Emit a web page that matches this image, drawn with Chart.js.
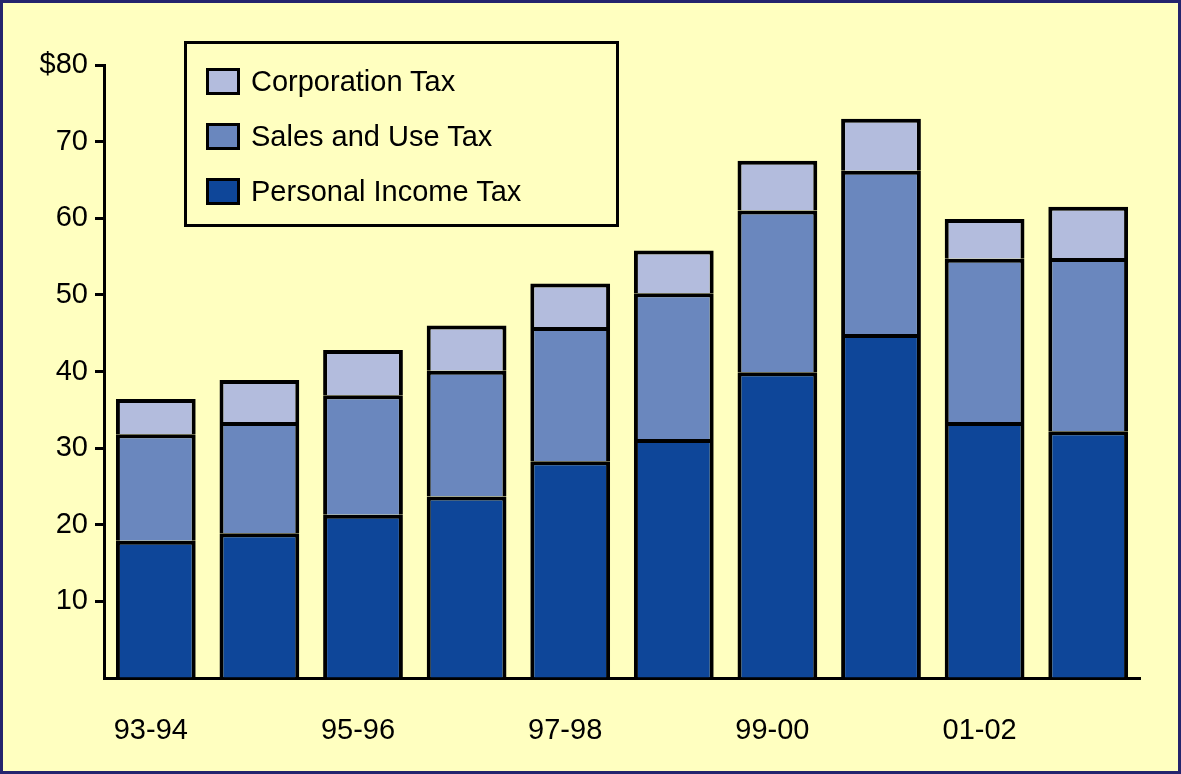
<!DOCTYPE html>
<html>
<head>
<meta charset="utf-8">
<script src="https://cdn.jsdelivr.net/npm/chart.js@4/dist/chart.umd.min.js"></script>
<style>
  html, body { margin: 0; padding: 0; background: #ffffc0; }
  #frame {
    position: relative;
    width: 1181px; height: 774px;
    box-sizing: border-box;
    border: 3px solid #24246e;
    background: #ffffc0;
    font-family: "Liberation Sans", Arial, sans-serif;
  }
  #chartWrap { position: absolute; left: 0; top: 0; width: 1175px; height: 768px; }
  #legend {
    position: absolute; left: 181px; top: 38px;
    width: 435px; height: 186px; box-sizing: border-box;
    border: 3px solid #000;
    padding-top: 10px;
  }
  .item { display: flex; align-items: center; height: 55px; padding-left: 19px; font-size: 29px; color: #000; }
  .swatch { width: 34px; height: 27px; box-sizing: border-box; border: 3px solid #000; margin-right: 11px; flex: none; }
</style>
</head>
<body>
<div id="frame">
  <div id="chartWrap"><canvas id="taxChart"></canvas></div>
  <div id="legend"></div>
</div>
<script>
// fiscal years, billions of dollars
const years = ['93-94', '94-95', '95-96', '96-97', '97-98', '98-99', '99-00', '00-01', '01-02', '02-03'];
const personalIncome = [17.9, 18.9, 21.3, 23.7, 28.3, 31.2, 39.9, 44.9, 33.4, 32.2];
const salesAndUse = [13.9, 14.5, 15.6, 16.4, 17.5, 19.0, 21.1, 21.3, 21.3, 22.6];
const corporation = [4.6, 5.5, 5.9, 5.9, 5.7, 5.6, 6.5, 6.8, 5.2, 6.7];
const yTicks = [0, 10, 20, 30, 40, 50, 60, 70, 80];

const font = { family: '"Liberation Sans", Arial, sans-serif', size: 29 };
const barBorder = { top: 4, left: 4, right: 4, bottom: 0 };

const ctx = document.getElementById('taxChart').getContext('2d');
const chart = new Chart(ctx, {
    type: 'bar',
    data: {
        labels: years,
        datasets: [
            { label: 'Personal Income Tax', data: personalIncome, backgroundColor: '#0e4699' },
            { label: 'Sales and Use Tax', data: salesAndUse, backgroundColor: '#6a87be' },
            { label: 'Corporation Tax', data: corporation, backgroundColor: '#b3bcdd' },
        ],
    },
    options: {
        responsive: true,
        maintainAspectRatio: false,
        animation: false,
        layout: { padding: { top: 62, right: 38, left: 0, bottom: 0 } },
        datasets: {
            bar: {
                borderColor: '#000',
                borderWidth: barBorder,
                borderSkipped: false,
                inflateAmount: 0,
                categoryPercentage: 1,
                barPercentage: 0.77,
            },
        },
        plugins: {
            legend: { display: false },
            tooltip: { enabled: false },
        },
        scales: {
            x: {
                stacked: true,
                grid: { display: false },
                border: { display: true, color: '#000', width: 3 },
                ticks: {
                    color: '#000',
                    font: font,
                    padding: 28,
                    labelOffset: -5,
                    maxRotation: 0,
                    autoSkip: false,
                    callback: (value, index) => (index % 2 === 0 ? years[index] : ''),
                },
                afterFit: (scale) => { scale.height = 93; },
            },
            y: {
                stacked: true,
                min: 0,
                max: 80,
                afterBuildTicks: (scale) => { scale.ticks = yTicks.map(v => ({ value: v })); },
                grid: {
                    drawOnChartArea: false,
                    drawTicks: true,
                    tickLength: 9,
                    tickWidth: 3,
                    tickColor: (c) => (c.tick && c.tick.value === 0 ? 'rgba(0,0,0,0)' : '#000'),
                },
                border: { display: true, color: '#000', width: 3 },
                ticks: {
                    color: '#000',
                    font: font,
                    padding: 7,
                    callback: (value) => (value === 80 ? '$80' : value === 0 ? '' : value),
                },
                afterFit: (scale) => { scale.width = 101; },
            },
        },
    },
});

// legend box, top series first
const legendEl = document.getElementById('legend');
chart.data.datasets.slice().reverse().forEach(ds => {
    const row = document.createElement('div');
    row.className = 'item';
    row.innerHTML = '<span class="swatch" style="background:' + ds.backgroundColor + '"></span>' + ds.label;
    legendEl.appendChild(row);
});
</script>
</body>
</html>
